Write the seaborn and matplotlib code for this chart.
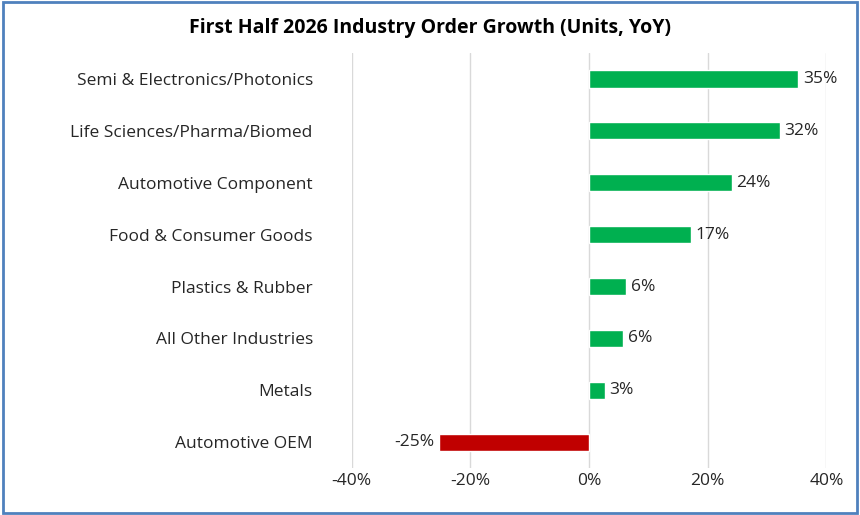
import matplotlib
matplotlib.use("Agg")
import matplotlib.pyplot as plt
import seaborn as sns
import pandas as pd
from matplotlib.patches import Rectangle

# data
industries = ["Semi & Electronics/Photonics", "Life Sciences/Pharma/Biomed",
              "Automotive Component", "Food & Consumer Goods", "Plastics & Rubber",
              "All Other Industries", "Metals", "Automotive OEM"]
growth = [35.2, 32.1, 24.0, 17.2, 6.3, 5.7, 2.6, -25.3]
labels = ["35%", "32%", "24%", "17%", "6%", "6%", "3%", "-25%"]

df = pd.DataFrame({"industry": industries, "growth": growth})
colors = ["#00B050" if g >= 0 else "#C00000" for g in growth]

sns.set_style("white")
plt.rcParams["font.family"] = ["Open Sans", "DejaVu Sans"]

fig = plt.figure(figsize=(8.6, 5.15), dpi=100)
ax = fig.add_axes([0.409, 0.091, 0.552, 0.806])

sns.barplot(data=df, x="growth", y="industry", hue="industry", palette=colors,
            legend=False, width=0.33, ax=ax, orient="h", saturation=1)

ax.set_xlim(-40, 40)
ax.set_xticks([-40, -20, 0, 20, 40])
ax.set_xticklabels(["-40%", "-20%", "0%", "20%", "40%"])
ax.xaxis.grid(True, color="#D9D9D9", lw=1)
ax.set_axisbelow(True)
for s in ax.spines.values():
    s.set_visible(False)
ax.set_xlabel("")
ax.set_ylabel("")
ax.tick_params(axis="both", length=0, labelsize=12.5, colors="#262626")
ax.tick_params(axis="y", pad=28)

for i, (g, lab) in enumerate(zip(growth, labels)):
    if g >= 0:
        ax.text(g + 0.8, i, lab, va="center", ha="left", fontsize=12.5, color="#262626")
    else:
        ax.text(g - 0.8, i, lab, va="center", ha="right", fontsize=12.5, color="#262626")

fig.text(0.5, 0.945, "First Half 2026 Industry Order Growth (Units, YoY)",
         ha="center", va="center", fontsize=14, fontweight="bold", color="#000000")

fig.patches.append(Rectangle((0.003, 0.004), 0.994, 0.992, transform=fig.transFigure,
                             fill=False, edgecolor="#4F81BD", lw=2))

fig.savefig("out.png", dpi=100)
